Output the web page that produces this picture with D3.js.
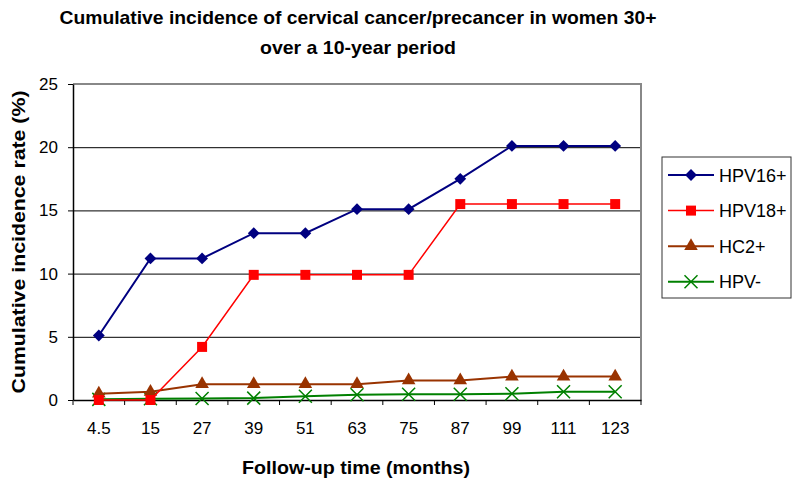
<!DOCTYPE html>
<html>
<head>
<meta charset="utf-8">
<script src="https://cdn.jsdelivr.net/npm/d3@7"></script>
<style>
  body { margin: 0; background: #fff; }
  svg { display: block; font-family: "Liberation Sans", Arial, sans-serif; }
  .tick text { font-size: 17px; fill: #000; }
</style>
</head>
<body>
<div id="chart"></div>
<script>
// data
var months = ["4.5", "15", "27", "39", "51", "63", "75", "87", "99", "111", "123"];
var hpv16 = [5.1, 11.2, 11.2, 13.2, 13.2, 15.1, 15.1, 17.5, 20.1, 20.1, 20.1];
var hpv18 = [0, 0, 4.2, 9.9, 9.9, 9.9, 9.9, 15.5, 15.5, 15.5, 15.5];
var hc2 = [0.5, 0.65, 1.25, 1.25, 1.25, 1.25, 1.55, 1.55, 1.85, 1.85, 1.85];
var hpvNeg = [0.05, 0.1, 0.12, 0.15, 0.3, 0.42, 0.45, 0.45, 0.5, 0.65, 0.65];
var yTicks = [0, 5, 10, 15, 20, 25];

var seriesNames = ["HPV16+", "HPV18+", "HC2+", "HPV-"];
var seriesColors = ["#000080", "#ff0000", "#993300", "#008000"];
var seriesMarkers = ["diamond", "square", "triangle", "x"];
var seriesWidths = [2, 1.5, 2, 2];

var series = [hpv16, hpv18, hc2, hpvNeg].map(function (vals, i) {
    return { name: seriesNames[i], color: seriesColors[i], marker: seriesMarkers[i],
             width: seriesWidths[i], values: vals };
});

//constants
var WIDTH = 800, HEIGHT = 487;
var PLOT = { left: 73, right: 641, top: 84, bottom: 400 };

var svg = d3.select("#chart").append("svg")
    .attr("width", WIDTH)
    .attr("height", HEIGHT);

var x = d3.scaleBand().domain(months).range([PLOT.left, PLOT.right]).padding(0);
var y = d3.scaleLinear().domain([0, 25]).range([PLOT.bottom, PLOT.top]);
var cx = function (i) { return x(months[i]) + x.bandwidth() / 2; };

// gridlines
svg.append("g")
    .attr("transform", "translate(" + PLOT.left + ",0)")
    .call(d3.axisLeft(y).tickValues(yTicks.slice(1, -1)).tickSize(-(PLOT.right - PLOT.left)).tickFormat(""))
    .call(function (g) { g.select(".domain").remove(); })
    .selectAll("line").attr("stroke", "#000").attr("stroke-width", 1);

// plot area border (top + right, grey)
svg.append("path")
    .attr("d", "M" + PLOT.left + "," + y(25) + "H" + PLOT.right + "V" + PLOT.bottom)
    .attr("fill", "none")
    .attr("stroke", "#888")
    .attr("stroke-width", 2);

// y axis
var yAxis = svg.append("g")
    .attr("transform", "translate(" + PLOT.left + ",0)")
    .call(d3.axisLeft(y).tickValues(yTicks).tickSize(5).tickPadding(10).tickSizeOuter(0));
yAxis.select(".domain").attr("stroke", "#000").attr("stroke-width", 1.5);
yAxis.selectAll(".tick line").attr("stroke", "#000");

// x axis: labels at band centres, tick marks at band edges
var xAxis = svg.append("g")
    .attr("transform", "translate(0," + PLOT.bottom + ")")
    .call(d3.axisBottom(x).tickSize(0).tickPadding(22).tickSizeOuter(0));
xAxis.select(".domain").attr("stroke", "#000").attr("stroke-width", 1.5);

svg.append("g").selectAll("line")
    .data(months.concat(["end"]))
  .enter().append("line")
    .attr("x1", function (d, i) { return PLOT.left + i * x.step(); })
    .attr("x2", function (d, i) { return PLOT.left + i * x.step(); })
    .attr("y1", PLOT.bottom)
    .attr("y2", PLOT.bottom + 5)
    .attr("stroke", "#000");

// markers
function drawMarker(g, type, color) {
    if (type == "diamond") {
        g.append("path").attr("d", d3.symbol(d3.symbolSquare, 70)()).attr("transform", "rotate(45)")
            .attr("fill", color);
    } else if (type == "square") {
        g.append("path").attr("d", d3.symbol(d3.symbolSquare, 100)()).attr("fill", color);
    } else if (type == "triangle") {
        g.append("path").attr("d", d3.symbol(d3.symbolTriangle, 80)()).attr("fill", color);
    } else {
        g.append("path").attr("d", "M-6.5,-6.5L6.5,6.5M-6.5,6.5L6.5,-6.5")
            .attr("stroke", color).attr("stroke-width", 1.5).attr("fill", "none");
    }
}

var line = d3.line()
    .x(function (d, i) { return cx(i); })
    .y(function (d) { return y(d); });

var plot = svg.append("g");
// draw in reverse so HPV16+ is on top
series.slice().reverse().forEach(function (s) {
    plot.append("path")
        .datum(s.values)
        .attr("d", line)
        .attr("fill", "none")
        .attr("stroke", s.color)
        .attr("stroke-width", s.width);

    plot.selectAll(null)
        .data(s.values)
      .enter().append("g")
        .attr("transform", function (d, i) { return "translate(" + cx(i) + "," + y(d) + ")"; })
        .each(function () { drawMarker(d3.select(this), s.marker, s.color); });
});

// legend
var legend = svg.append("g");
legend.append("rect")
    .attr("x", 662).attr("y", 157).attr("width", 129).attr("height", 141)
    .attr("fill", "#fff").attr("stroke", "#333").attr("stroke-width", 1);

var entries = legend.selectAll(".entry")
    .data(series)
  .enter().append("g")
    .attr("class", "entry")
    .attr("transform", function (d, i) { return "translate(0," + (175 + i * 35.6) + ")"; });

entries.append("line")
    .attr("x1", 668).attr("x2", 714).attr("y1", 0).attr("y2", 0)
    .attr("stroke", function (d) { return d.color; })
    .attr("stroke-width", function (d) { return d.width; });
entries.append("g")
    .attr("transform", "translate(691,0)")
    .each(function (d) { drawMarker(d3.select(this), d.marker, d.color); });
entries.append("text")
    .attr("x", 719).attr("y", 6.5)
    .style("font-size", "18px")
    .text(function (d) { return d.name; });

// titles
var title = svg.append("g").style("font-weight", "bold").style("font-size", "19px");
title.append("text").attr("x", 358).attr("y", 24).attr("text-anchor", "middle")
    .attr("textLength", 597).attr("lengthAdjust", "spacingAndGlyphs")
    .text("Cumulative incidence of cervical cancer/precancer in women 30+");
title.append("text").attr("x", 358).attr("y", 54).attr("text-anchor", "middle")
    .attr("textLength", 196).attr("lengthAdjust", "spacingAndGlyphs")
    .text("over a 10-year period");

svg.append("text")
    .attr("x", 356).attr("y", 474).attr("text-anchor", "middle")
    .style("font-weight", "bold").style("font-size", "19px")
    .attr("textLength", 228).attr("lengthAdjust", "spacingAndGlyphs")
    .text("Follow-up time (months)");

svg.append("text")
    .attr("transform", "translate(25,242) rotate(-90)")
    .attr("text-anchor", "middle")
    .style("font-weight", "bold").style("font-size", "19px")
    .attr("textLength", 303).attr("lengthAdjust", "spacingAndGlyphs")
    .text("Cumulative incidence rate (%)");
</script>
</body>
</html>
